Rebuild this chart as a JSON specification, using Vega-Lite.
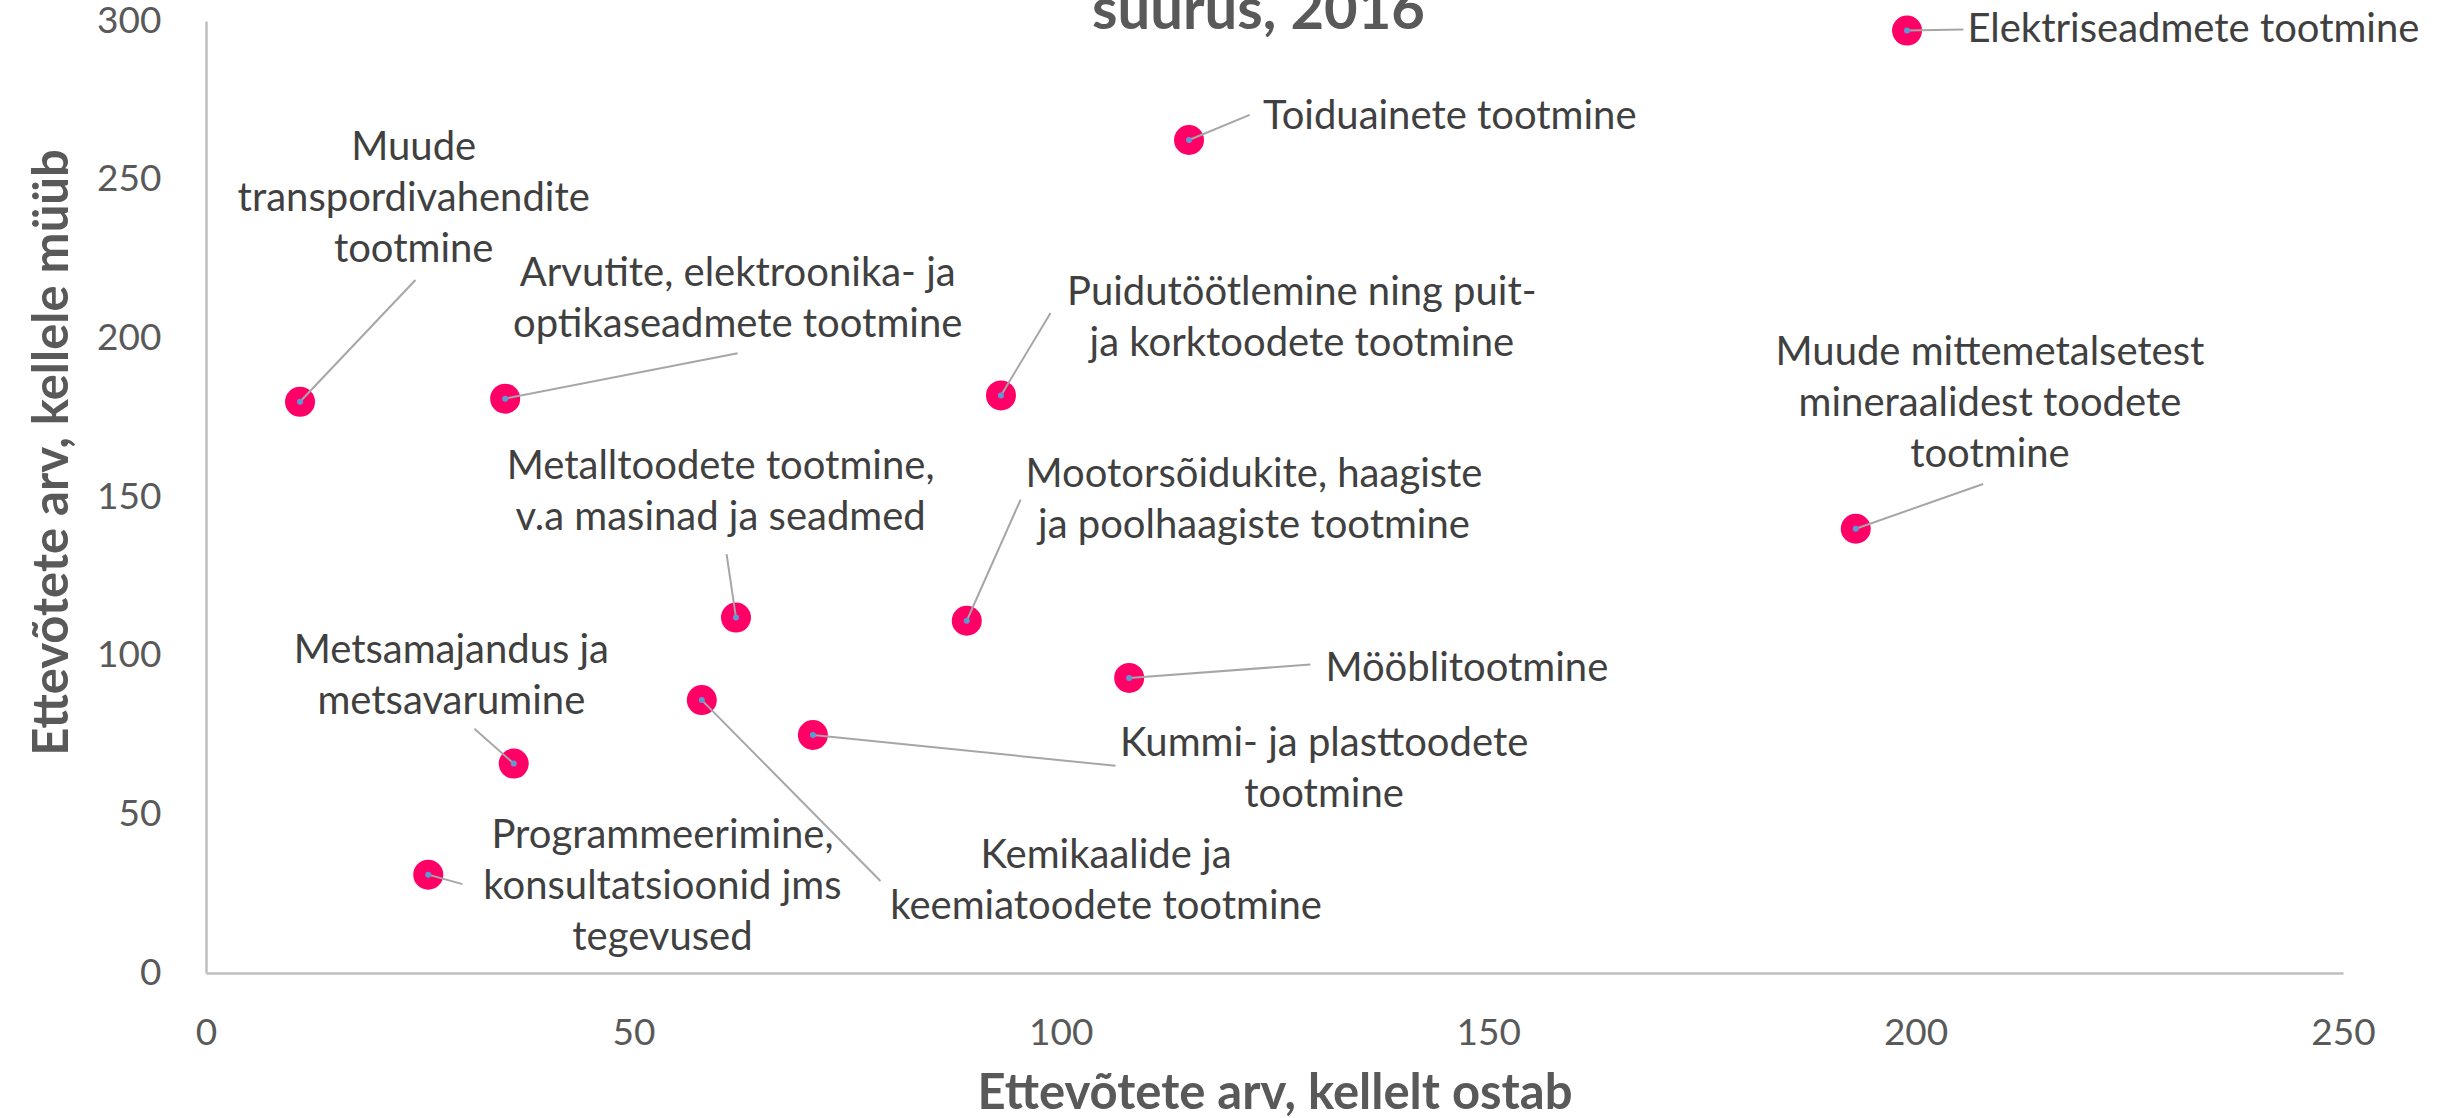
{
  "$schema": "https://vega.github.io/schema/vega-lite/v6.json",
  "autosize": {"type": "none"},
  "width": 2137,
  "height": 952,
  "padding": {"left": 206, "top": 21, "right": 97, "bottom": 145},
  "background": "white",
  "title": {
    "text": "suurus, 2016",
    "font": "Lato",
    "fontSize": 58,
    "fontWeight": "bold",
    "color": "#595959",
    "anchor": "middle",
    "baseline": "alphabetic",
    "offset": 0,
    "dy": 85,
    "dx": -16
  },
  "config": {
    "view": {"stroke": null},
    "axis": {
      "grid": false,
      "ticks": false,
      "domainColor": "#bfbfbf",
      "domainWidth": 2.5,
      "labelFont": "Lato",
      "labelFontSize": 37,
      "labelColor": "#595959",
      "labelFlush": false,
      "labelOverlap": false,
      "labelPadding": 42,
      "titleFont": "Lato",
      "titleFontSize": 49,
      "titleFontWeight": "bold",
      "titleColor": "#595959"
    }
  },
  "data": {
    "values": [
      {"name": "Elektriseadmete tootmine", "x": 199, "y": 297, "lx": 232.5, "ly": 297.3, "ex": 205.6, "ey": 297.3},
      {"name": "Toiduainete tootmine", "x": 115, "y": 262.5, "lx": 145.5, "ly": 269.9, "ex": 122.1, "ey": 270.4},
      {"name": "Muude\ntranspordivahendite\ntootmine", "x": 11, "y": 180, "lx": 24.3, "ly": 260.1, "ex": 24.5, "ey": 218.4},
      {"name": "Arvutite, elektroonika- ja\noptikaseadmete tootmine", "x": 35, "y": 181, "lx": 62.2, "ly": 220.3, "ex": 62.2, "ey": 195.3},
      {"name": "Puidutöötlemine ning puit-\nja korktoodete tootmine", "x": 93, "y": 182, "lx": 128.2, "ly": 214.4, "ex": 98.8, "ey": 208},
      {"name": "Muude mittemetalsetest\nmineraalidest toodete\ntootmine", "x": 193, "y": 140, "lx": 208.7, "ly": 195.3, "ex": 207.9, "ey": 154.1},
      {"name": "Metalltoodete tootmine,\nv.a masinad ja seadmed", "x": 62, "y": 112, "lx": 60.2, "ly": 159.5, "ex": 60.9, "ey": 132},
      {"name": "Mootorsõidukite, haagiste\nja poolhaagiste tootmine", "x": 89, "y": 111, "lx": 122.6, "ly": 157.0, "ex": 95.3, "ey": 149.2},
      {"name": "Mööblitootmine", "x": 108, "y": 93, "lx": 147.5, "ly": 95.7, "ex": 129.2, "ey": 97.2},
      {"name": "Metsamajandus ja\nmetsavarumine", "x": 36, "y": 66, "lx": 28.7, "ly": 101.6, "ex": 31.4, "ey": 77},
      {"name": "Kemikaalide ja\nkeemiatoodete tootmine", "x": 58, "y": 86, "lx": 105.3, "ly": 36.8, "ex": 78.9, "ey": 29},
      {"name": "Kummi- ja plasttoodete\ntootmine", "x": 71, "y": 75, "lx": 130.8, "ly": 72.1, "ex": 106.4, "ey": 65.3},
      {"name": "Programmeerimine,\nkonsultatsioonid jms\ntegevused", "x": 26, "y": 31, "lx": 53.4, "ly": 43.2, "ex": 30, "ey": 28}
    ]
  },
  "encoding": {
    "x": {
      "field": "x", "type": "quantitative",
      "title": "Ettevõtete arv, kellelt ostab",
      "scale": {"domain": [0, 250], "nice": false, "zero": false},
      "axis": {"values": [0, 50, 100, 150, 200, 250], "titleY": 135, "titleBaseline": "alphabetic"}
    },
    "y": {
      "field": "y", "type": "quantitative",
      "title": "Ettevõtete arv, kellele müüb",
      "scale": {"domain": [0, 300], "nice": false, "zero": false},
      "axis": {"values": [0, 50, 100, 150, 200, 250, 300], "labelPadding": 45, "titleX": -139, "titleY": 431, "titleAngle": -90, "titleBaseline": "alphabetic", "titleAlign": "center"}
    }
  },
  "layer": [
    {
      "mark": {"type": "point", "filled": true, "shape": "circle", "size": 900, "color": "#ff0066", "opacity": 1}
    },
    {
      "mark": {"type": "rule", "color": "#a6a6a6", "strokeWidth": 2},
      "encoding": {
        "x2": {"field": "ex"},
        "y2": {"field": "ey"}
      }
    },
    {
      "mark": {"type": "point", "filled": true, "shape": "circle", "size": 36, "color": "#5b9bd5", "opacity": 1}
    },
    {
      "mark": {"type": "text", "font": "Lato", "fontSize": 40, "color": "#404040", "align": "center", "baseline": "middle", "lineBreak": "\n", "lineHeight": 51},
      "encoding": {
        "x": {"field": "lx", "type": "quantitative", "title": "Ettevõtete arv, kellelt ostab"},
        "y": {"field": "ly", "type": "quantitative", "title": "Ettevõtete arv, kellele müüb"},
        "text": {"field": "name", "type": "nominal"}
      }
    }
  ]
}
